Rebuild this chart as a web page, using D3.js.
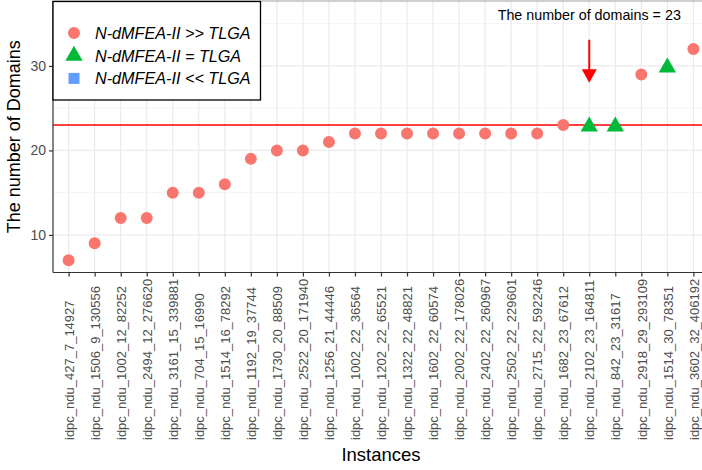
<!DOCTYPE html>
<html>
<head>
<meta charset="utf-8">
<script src="https://cdn.jsdelivr.net/npm/d3@7"></script>
<style>
  body { margin: 0; background: #fff; }
  text { font-family: Arial, "Liberation Sans", sans-serif; }
</style>
</head>
<body>
<script>
// instances, sorted by number of domains
var instances = ["idpc_ndu_427_7_14927", "idpc_ndu_1506_9_130556", "idpc_ndu_1002_12_82252",
  "idpc_ndu_2494_12_276620", "idpc_ndu_3161_15_339881", "idpc_ndu_704_15_16990",
  "idpc_ndu_1514_16_78292", "idpc_ndu_1192_19_37744", "idpc_ndu_1730_20_88509",
  "idpc_ndu_2522_20_171940", "idpc_ndu_1256_21_44446", "idpc_ndu_1002_22_36564",
  "idpc_ndu_1202_22_65521", "idpc_ndu_1322_22_48821", "idpc_ndu_1602_22_60574",
  "idpc_ndu_2002_22_178026", "idpc_ndu_2402_22_260967", "idpc_ndu_2502_22_229601",
  "idpc_ndu_2715_22_592246", "idpc_ndu_1682_23_67612", "idpc_ndu_2102_23_164811",
  "idpc_ndu_842_23_31617", "idpc_ndu_2918_29_293109", "idpc_ndu_1514_30_78351",
  "idpc_ndu_3602_32_406192"];
var domains = [7, 9, 12, 12, 15, 15, 16, 19, 20, 20, 21, 22, 22, 22, 22, 22, 22, 22, 22, 23, 23, 23, 29, 30, 32];
// 0 = ">>", 1 = "=", 2 = "<<"
var groupIdx = [0, 0, 0, 0, 0, 0, 0, 0, 0, 0, 0, 0, 0, 0, 0, 0, 0, 0, 0, 0, 1, 1, 0, 1, 0];
var groupNames = ["N-dMFEA-II >> TLGA", "N-dMFEA-II = TLGA", "N-dMFEA-II << TLGA"];
var groupColors = ["#F8766D", "#00BA38", "#619CFF"];
var yTicks = [10, 20, 30];
var yMinor = [15, 25, 35];
var threshold = 23;
var markInstance = "idpc_ndu_2102_23_164811";

var width = 702, height = 470;
// note: "top" clashes with window.top, so panel edges get their own names
var pLeft = 53, pRight = 709, pTop = 1, pBottom = 272.5;

var svg = d3.select("body").append("svg")
    .attr("width", width)
    .attr("height", height);

var x = d3.scalePoint()
    .domain(instances)
    .range([pLeft, pRight])
    .padding(0.6);

var y = d3.scaleLinear()
    .domain([5.55, 37.45])
    .range([pBottom, 3]);

var grid = svg.append("g");
grid.selectAll(".minor").data(yMinor).enter().append("line")
    .attr("x1", pLeft).attr("x2", pRight)
    .attr("y1", function(d) { return y(d); }).attr("y2", function(d) { return y(d); })
    .attr("stroke", "#F3F3F3").attr("stroke-width", 1);
grid.selectAll(".major").data(yTicks).enter().append("line")
    .attr("x1", pLeft).attr("x2", pRight)
    .attr("y1", function(d) { return y(d); }).attr("y2", function(d) { return y(d); })
    .attr("stroke", "#EBEBEB").attr("stroke-width", 1.2);
grid.selectAll(".vert").data(instances).enter().append("line")
    .attr("x1", function(d) { return x(d); }).attr("x2", function(d) { return x(d); })
    .attr("y1", pTop).attr("y2", pBottom)
    .attr("stroke", "#EBEBEB").attr("stroke-width", 1.2);

// top border of panel
svg.append("line")
    .attr("x1", pLeft).attr("x2", pRight).attr("y1", pTop).attr("y2", pTop)
    .attr("stroke", "#A0A0A0").attr("stroke-width", 1.2);

// threshold line
svg.append("line")
    .attr("x1", pLeft).attr("x2", pRight)
    .attr("y1", y(threshold)).attr("y2", y(threshold))
    .attr("stroke", "#FF0000").attr("stroke-width", 1.5);

// points
var symbols = [d3.symbolCircle, d3.symbolTriangle, d3.symbolSquare];
var symSizes = [113, 130, 121];
svg.append("g").selectAll("path").data(domains).enter().append("path")
    .attr("transform", function(d, i) {
      var dy = groupIdx[i] == 1 ? 1.5 : 0;
      return "translate(" + x(instances[i]) + "," + (y(d) + dy) + ")";
    })
    .attr("d", function(d, i) { return d3.symbol().type(symbols[groupIdx[i]]).size(symSizes[groupIdx[i]])(); })
    .attr("fill", function(d, i) { return groupColors[groupIdx[i]]; });

// arrow + annotation
var ax = x(markInstance);
svg.append("line")
    .attr("x1", ax).attr("x2", ax)
    .attr("y1", y(33.1)).attr("y2", y(29.5))
    .attr("stroke", "#FF0000").attr("stroke-width", 2);
svg.append("path")
    .attr("d", "M" + (ax - 7.5) + "," + y(29.6) + "L" + (ax + 7.5) + "," + y(29.6) + "L" + ax + "," + y(28))
    .attr("fill", "#FF0000");
svg.append("text")
    .attr("x", ax).attr("y", y(36) + 5)
    .attr("text-anchor", "middle")
    .style("font-size", "14.3px")
    .text("The number of domains = " + threshold);

// axes
var yAxis = svg.append("g")
    .attr("transform", "translate(" + pLeft + ",0)")
    .call(d3.axisLeft(y).tickValues(yTicks).tickSize(4).tickPadding(3));
yAxis.select(".domain").attr("d", "M0," + pTop + "V" + pBottom).attr("stroke", "#333").attr("stroke-width", 1.2);
yAxis.selectAll(".tick line").attr("stroke", "#333").attr("stroke-width", 1.2);
yAxis.selectAll(".tick text").style("font-size", "14px").attr("fill", "#4D4D4D")
    .style("font-family", "Arial, 'Liberation Sans', sans-serif");

var xAxis = svg.append("g")
    .attr("transform", "translate(0," + pBottom + ")")
    .call(d3.axisBottom(x).tickSize(4).tickSizeOuter(0));
xAxis.select(".domain").attr("d", "M" + pLeft + ",0H" + pRight).attr("stroke", "#333").attr("stroke-width", 1.2);
xAxis.selectAll(".tick line").attr("stroke", "#333").attr("stroke-width", 1.2);
// labels are bottom-aligned, reading upwards
xAxis.selectAll(".tick text")
    .style("font-size", "13px").attr("fill", "#4D4D4D")
    .style("font-family", "Arial, 'Liberation Sans', sans-serif")
    .attr("text-anchor", "start")
    .attr("dy", null)
    .attr("x", 0).attr("y", 0)
    .attr("transform", "translate(4.7," + (440 - pBottom) + ") rotate(-90)");

// axis titles
svg.append("text")
    .attr("x", (pLeft + pRight) / 2).attr("y", 461)
    .attr("text-anchor", "middle")
    .style("font-size", "18.5px")
    .text("Instances");
svg.append("text")
    .attr("transform", "translate(20," + (pTop + pBottom) / 2 + ") rotate(-90)")
    .attr("text-anchor", "middle")
    .style("font-size", "18px")
    .text("The number of Domains");

// legend
var legend = svg.append("g");
legend.append("rect")
    .attr("x", 53).attr("y", 1.5).attr("width", 207.5).attr("height", 98.5)
    .attr("fill", "#fff").attr("stroke", "#000").attr("stroke-width", 1.3);
var item = legend.selectAll(".item").data(groupNames).enter().append("g")
    .attr("transform", function(d, i) { return "translate(74," + (33 + i * 22.7) + ")"; });
item.append("path")
    .attr("d", function(d, i) { return d3.symbol().type(symbols[i]).size(symSizes[i])(); })
    .attr("fill", function(d, i) { return groupColors[i]; });
item.append("text")
    .attr("x", 21).attr("y", 6)
    .style("font-size", "16.2px")
    .style("font-style", "italic")
    .text(function(d) { return d; });
</script>
</body>
</html>
